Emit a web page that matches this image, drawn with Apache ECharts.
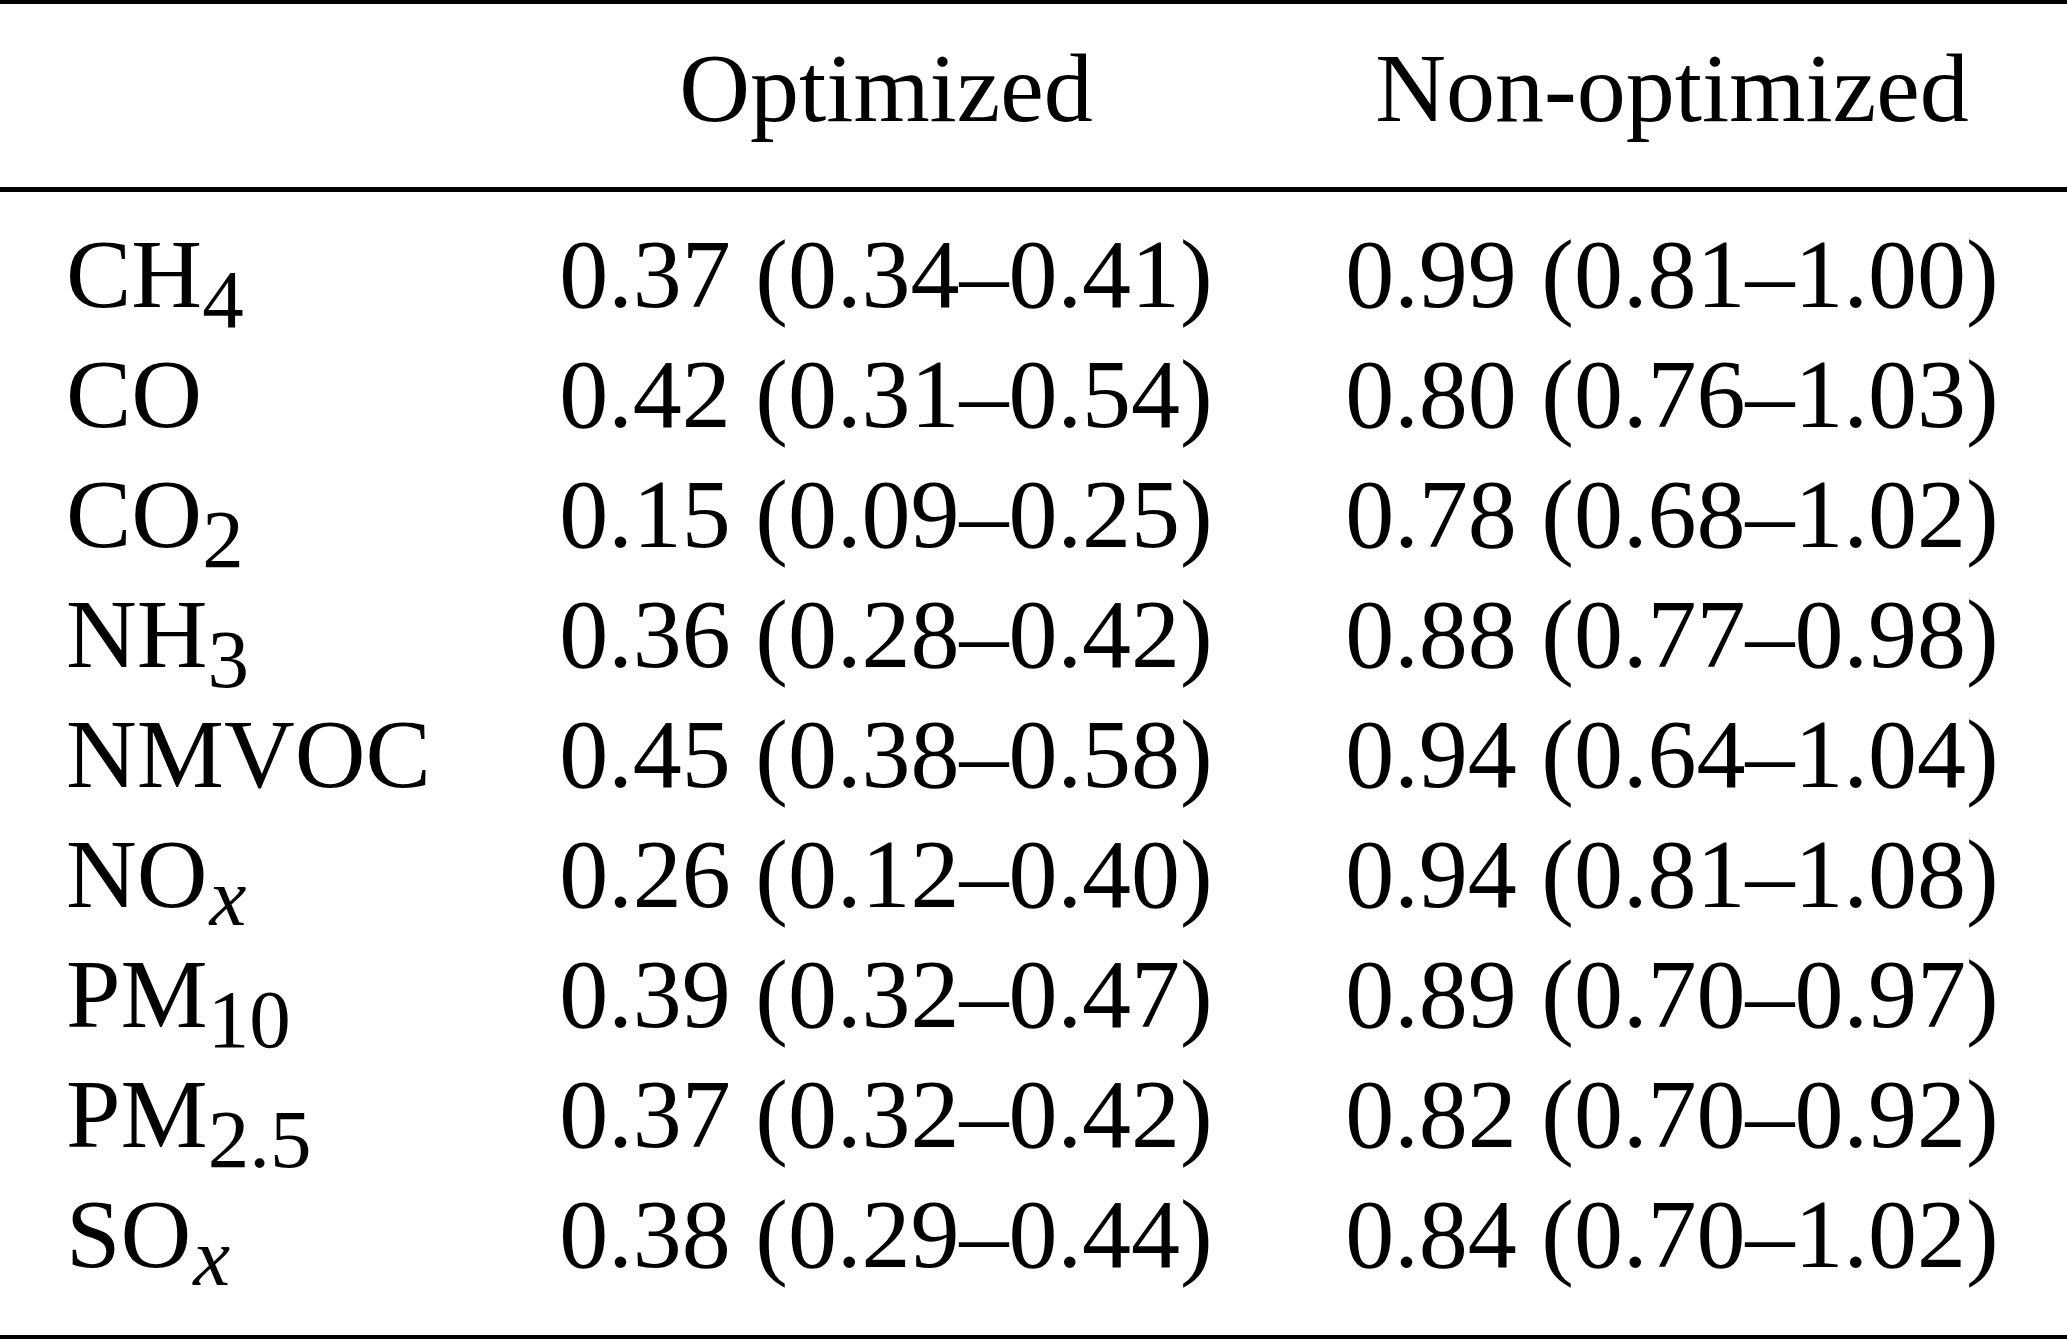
<!DOCTYPE html>
<html>
<head>
<meta charset="utf-8">
<script src="https://cdn.jsdelivr.net/npm/echarts@6/dist/echarts.min.js"></script>
<style>
  html, body { margin: 0; padding: 0; background: #fff; }
  #main { width: 2067px; height: 1340px; }
</style>
</head>
<body>
<div id="main"></div>
<script>
// table contents
const columns = ['Optimized', 'Non-optimized']
const speciesBase = ['CH', 'CO', 'CO', 'NH', 'NMVOC', 'NO', 'PM', 'PM', 'SO']
const speciesSub = ['4', '', '2', '3', '', 'x', '10', '2.5', 'x']

const optMedian = [0.37, 0.42, 0.15, 0.36, 0.45, 0.26, 0.39, 0.37, 0.38]
const optLow = [0.34, 0.31, 0.09, 0.28, 0.38, 0.12, 0.32, 0.32, 0.29]
const optHigh = [0.41, 0.54, 0.25, 0.42, 0.58, 0.40, 0.47, 0.42, 0.44]

const nonMedian = [0.99, 0.80, 0.78, 0.88, 0.94, 0.94, 0.89, 0.82, 0.84]
const nonLow = [0.81, 0.76, 0.68, 0.77, 0.64, 0.81, 0.70, 0.70, 0.70]
const nonHigh = [1.00, 1.03, 1.02, 0.98, 1.04, 1.08, 0.97, 0.92, 1.02]

const FONT = 'Liberation Serif, Times New Roman, serif'
const FS = 98

// row labels with subscripts as rich text
const rowKeys = speciesBase.map((b, i) => 'r' + i)
function rowLabel(i) {
  const sub = speciesSub[i]
  if (!sub) return '{m|' + speciesBase[i] + '}'
  const style = sub === 'x' ? 'sx' : 's'
  return '{m|' + speciesBase[i] + '}{' + style + '|' + sub + '}'
}

function cell(med, lo, hi) {
  return med.toFixed(2) + ' (' + lo.toFixed(2) + '\u2013' + hi.toFixed(2) + ')'
}

function cellSeries(col, med, lo, hi) {
  return {
    name: columns[col],
    type: 'scatter',
    symbolSize: 0,
    silent: true,
    itemStyle: { opacity: 1 },
    data: med.map((v, i) => ({ value: [col, i], text: cell(v, lo[i], hi[i]) })),
    label: {
      show: true,
      position: 'inside',
      align: 'center',
      verticalAlign: 'middle',
      opacity: 1,
      fontFamily: FONT,
      fontSize: FS,
      color: '#000',
      formatter: p => p.data.text
    }
  }
}

const chart = echarts.init(document.getElementById('main'))
chart.setOption({
  backgroundColor: '#fff',
  animation: false,
  grid: { left: 493, right: 2, top: 221, bottom: 39 },
  xAxis: {
    type: 'category',
    position: 'top',
    data: columns,
    axisLine: { show: false },
    axisTick: { show: false },
    splitLine: { show: false },
    axisLabel: {
      margin: 126,
      verticalAlign: 'middle',
      fontFamily: FONT,
      fontSize: FS,
      color: '#000'
    }
  },
  yAxis: {
    type: 'category',
    inverse: true,
    data: rowKeys,
    axisLine: { show: false },
    axisTick: { show: false },
    splitLine: { show: false },
    axisLabel: {
      align: 'left',
      margin: 427,
      verticalAlign: 'middle',
      formatter: (v, i) => rowLabel(i),
      rich: {
        m: { fontFamily: FONT, fontSize: FS, color: '#000', verticalAlign: 'middle' },
        s: { fontFamily: FONT, fontSize: 83, color: '#000', verticalAlign: 'middle', padding: [48, 0, 0, 0] },
        sx: { fontFamily: FONT, fontSize: 83, fontStyle: 'italic', color: '#000', verticalAlign: 'middle', padding: [44, 0, 0, 2] }
      }
    }
  },
  // horizontal rules of the table
  graphic: [
    { type: 'rect', left: 0, top: 0, shape: { width: 2067, height: 4 }, style: { fill: '#000' } },
    { type: 'rect', left: 0, top: 187, shape: { width: 2067, height: 5 }, style: { fill: '#000' } },
    { type: 'rect', left: 0, top: 1335, shape: { width: 2067, height: 4 }, style: { fill: '#000' } }
  ],
  series: [
    cellSeries(0, optMedian, optLow, optHigh),
    cellSeries(1, nonMedian, nonLow, nonHigh)
  ]
})
</script>
</body>
</html>
